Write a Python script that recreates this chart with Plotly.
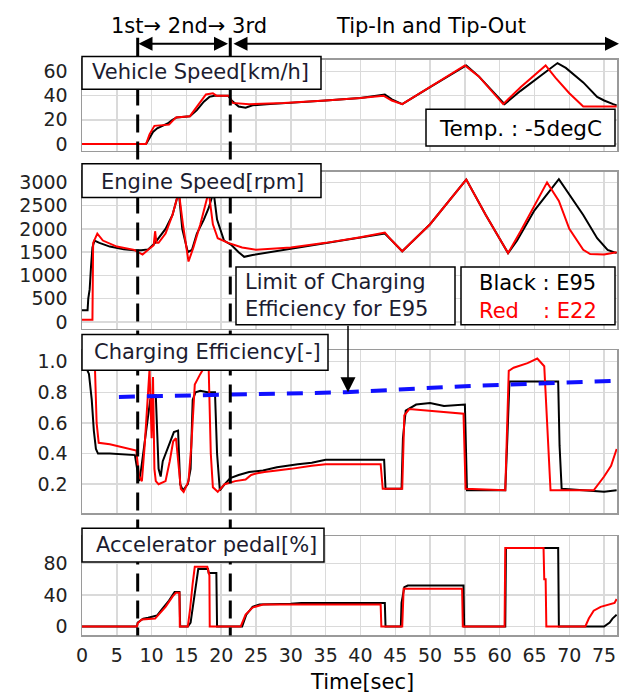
import plotly.graph_objects as go

# ---------------- data ----------------
# Vehicle speed [km/h]
t_vs_black = [0, 9.2, 9.6, 10.2, 10.8, 11.5, 12.3, 13.0, 13.6, 15.5, 16.5, 17.5, 18.3, 19.0, 21.0, 21.5, 22.5, 23.5, 24.5, 27, 30, 35, 40, 43.5, 44.5, 46, 50, 55.2, 57, 60.7, 63, 66, 68.3, 69.5, 72, 74, 75, 76.3, 76.8]
vs_black = [0, 0, 4, 10, 13, 15, 17, 20, 22, 23, 28, 35, 39, 40, 40, 36, 31, 30, 32, 33, 34, 36, 38, 41, 37, 33, 47, 65, 56, 33, 44, 57, 67, 63, 51, 39, 36, 33, 32]
t_vs_red = [0, 9.2, 9.7, 10.4, 12.5, 13.5, 15.5, 17.2, 17.8, 18.8, 19.3, 21.1, 21.6, 24, 29, 35, 40, 43.3, 44.5, 46, 50, 55, 57, 60.5, 63, 66.6, 68, 70, 72, 76.8]
vs_red = [0, 0, 8, 15, 16, 22, 23, 37, 41, 42, 40, 40, 34, 33, 34, 36, 38, 40, 36, 33, 47, 65, 56, 33, 47, 65, 55, 42, 31, 31]

# Engine speed [rpm]
t_es_black = [0, 0.8, 0.9, 1.1, 1.3, 1.5, 1.8, 2.5, 4, 6, 7.5, 8.5, 9.5, 10.5, 11, 12, 13, 13.9, 14.4, 15.2, 15.8, 16.5, 17.5, 18.2, 18.9, 19.4, 20.4, 21.5, 22.5, 23.3, 24.5, 27, 30, 35, 40, 43.5, 44.5, 46, 50, 55.2, 58, 61.2, 62.5, 65, 68.5, 70, 72, 74, 75.5, 76.8]
es_black = [250, 250, 500, 700, 1200, 1600, 1750, 1700, 1620, 1560, 1540, 1540, 1560, 1700, 1800, 2000, 2300, 2800, 2000, 1500, 1550, 1900, 2200, 2450, 2800, 2200, 1750, 1650, 1500, 1400, 1440, 1500, 1560, 1680, 1800, 1900, 1750, 1520, 2100, 3060, 2300, 1480, 1750, 2400, 3070, 2750, 2300, 1800, 1550, 1480]
t_es_red = [0, 1.5, 1.6, 2.2, 3, 5, 7.5, 8.3, 8.7, 9.5, 10.3, 10.5, 10.7, 11, 12, 13, 13.9, 14.5, 15.3, 16, 17, 18.2, 18.8, 19.5, 21, 23, 25, 30, 35, 40, 43.5, 44.5, 46, 50, 55.2, 58, 61.2, 63, 66.8, 68.5, 70, 72, 73, 75, 76.8]
es_red = [50, 50, 1700, 1900, 1750, 1620, 1550, 1480, 1450, 1550, 1650, 1950, 1700, 1700, 1900, 2300, 2800, 2100, 1300, 1600, 2100, 2800, 2100, 1800, 1700, 1600, 1550, 1600, 1700, 1820, 1920, 1750, 1520, 2100, 3060, 2300, 1480, 1950, 3000, 2600, 2000, 1550, 1460, 1450, 1500]

# Charging efficiency [-]
t_ce_black = [0, 0.5, 1.0, 1.4, 1.7, 2.0, 2.3, 4, 7.6, 7.9, 8.2, 8.5, 9.2, 9.8, 10.2, 10.6, 11.0, 11.3, 11.6, 12.5, 13.2, 13.8, 14.1, 14.5, 15.2, 15.6, 15.9, 16.3, 17, 18, 19.1, 19.4, 19.8, 20.5, 21.3, 22.5, 24, 26, 28, 31, 33, 35, 43.4, 43.6, 45.9, 46.1, 46.5, 48, 50, 52, 55.0, 55.3, 60.8, 61.1, 61.4, 64, 68.4, 68.6, 68.9, 72, 75, 76.8]
ce_black = [1.0, 0.97, 0.92, 0.75, 0.55, 0.43, 0.40, 0.40, 0.39, 0.30, 0.22, 0.30, 0.55, 0.75, 0.78, 0.78, 0.30, 0.25, 0.35, 0.45, 0.54, 0.55, 0.20, 0.16, 0.20, 0.30, 0.75, 0.80, 0.81, 0.80, 0.80, 0.40, 0.16, 0.20, 0.24, 0.26, 0.28, 0.29, 0.31, 0.33, 0.34, 0.36, 0.36, 0.17, 0.17, 0.50, 0.68, 0.72, 0.73, 0.71, 0.72, 0.16, 0.16, 0.50, 0.87, 0.87, 0.87, 0.45, 0.17, 0.16, 0.15, 0.16]
t_ce_red = [0, 1.8, 2.1, 2.4, 4, 6, 7.8, 8.2, 8.6, 9.0, 9.4, 9.7, 10.0, 10.2, 10.4, 10.6, 11.0, 12.0, 12.6, 13.1, 13.5, 13.9, 14.2, 14.6, 15.3, 15.7, 16.2, 17.0, 17.4, 18.2, 18.5, 18.8, 19.5, 20.5, 22, 23.5, 24.3, 25, 26.2, 28, 30, 33, 35, 42.9, 43.2, 46.0, 46.3, 47, 50, 54.8, 55.1, 60.8, 61.3, 62, 64, 65.4, 66.4, 66.9, 67.3, 70, 73.5, 75, 76, 76.8]
ce_red = [1.05, 1.05, 0.60, 0.47, 0.46, 0.44, 0.42, 0.25, 0.22, 0.45, 0.70, 0.95, 0.50, 0.90, 0.30, 0.22, 0.20, 0.22, 0.35, 0.48, 0.50, 0.30, 0.17, 0.15, 0.22, 0.45, 0.85, 0.92, 0.95, 0.95, 0.40, 0.18, 0.15, 0.20, 0.22, 0.23, 0.26, 0.27, 0.28, 0.29, 0.30, 0.32, 0.33, 0.33, 0.17, 0.17, 0.65, 0.69, 0.68, 0.66, 0.17, 0.16, 0.94, 0.96, 0.99, 1.02, 0.97, 0.50, 0.16, 0.16, 0.16, 0.25, 0.32, 0.43]
t_limit = [5.3, 18.6, 37.8, 55, 76.8]
ce_limit = [0.77, 0.78, 0.80, 0.84, 0.875]

# Accelerator pedal [%]
t_ap_black = [0, 7.9, 8.0, 8.8, 9.5, 10.8, 11.5, 12.5, 13.3, 14.0, 14.1, 15.2, 15.6, 16.0, 16.4, 16.7, 18.1, 18.2, 19.3, 19.4, 23.0, 23.6, 24.5, 25.5, 30, 31.5, 43.5, 43.6, 45.8, 45.9, 46.3, 46.8, 54.8, 54.9, 60.8, 60.9, 68.4, 68.5, 75.0, 75.8, 76.2, 76.8]
ap_black = [0, 0, 5, 10, 11, 14, 22, 33, 44, 44, 0, 0, 5, 30, 60, 73, 73, 68, 68, 0, 0, 15, 25, 28, 29, 30, 30, 0, 0, 30, 50, 52, 52, 0, 0, 100, 100, 0, 0, 5, 10, 15]
t_ap_red = [0, 7.9, 8.0, 8.6, 10.5, 11, 12, 13.0, 13.5, 14.0, 14.05, 15.2, 15.5, 15.9, 16.2, 18.0, 18.3, 18.35, 22.8, 23.5, 24.5, 26, 42.9, 43.0, 46.0, 46.2, 54.6, 54.7, 60.7, 60.8, 66.3, 66.4, 66.6, 66.7, 72.3, 72.8, 73.5, 74.5, 75.5, 76.5, 76.8]
ap_red = [0, 0, 4, 9, 10, 15, 25, 38, 43, 43, 0, 0, 20, 55, 76, 76, 65, 0, 0, 15, 24, 28, 28, 0, 0, 48, 48, 0, 0, 100, 100, 60, 60, 0, 0, 10, 20, 25, 28, 30, 35]

x_ticks = list(range(0, 80, 5))
shift_times = [8.0, 21.3]

# ---------------- layout helpers ----------------
W, H = 622, 695
ML, MR = 82, 5
PW = W - ML - MR
FONT = "DejaVu Sans"
TXT = "#1c1c30"


def fx(px):
    return (px - ML) / PW


def fy(py):
    return 1 - py / H


X_RANGE = [0, 76.85]
panels = [  # (top px, bottom px, y range, tick values, tick format)
    (59, 151, [-5.75, 69.9], [0, 20, 40, 60], None),
    (172, 330, [-143, 3228], [0, 500, 1000, 1500, 2000, 2500, 3000], None),
    (352, 516, [0.01, 1.073], [0.2, 0.4, 0.6, 0.8, 1.0], ".1f"),
    (539, 639, [-11.4, 115], [0, 40, 80], None),
]

fig = go.Figure()
BLACK_W, RED_W = 2, 2
series = [
    (t_vs_black, vs_black, t_vs_red, vs_red),
    (t_es_black, es_black, t_es_red, es_red),
    (t_ce_black, ce_black, t_ce_red, ce_red),
    (t_ap_black, ap_black, t_ap_red, ap_red),
]
for i, (tb, yb, tr, yr) in enumerate(series):
    xa = "x" if i == 0 else f"x{i+1}"
    ya = "y" if i == 0 else f"y{i+1}"
    fig.add_trace(go.Scatter(x=tb, y=yb, mode="lines", line=dict(color="black", width=BLACK_W),
                             xaxis=xa, yaxis=ya, hoverinfo="skip"))
    fig.add_trace(go.Scatter(x=tr, y=yr, mode="lines", line=dict(color="#ff0000", width=RED_W),
                             xaxis=xa, yaxis=ya, hoverinfo="skip"))
    if i == 2:
        fig.add_trace(go.Scatter(x=t_limit, y=ce_limit, mode="lines",
                                 line=dict(color="#1010ff", width=4, dash="16px,12px"),
                                 xaxis=xa, yaxis=ya, hoverinfo="skip"))

layout = dict(
    width=W, height=H, autosize=False,
    margin=dict(l=ML, r=MR, t=0, b=0, pad=0),
    paper_bgcolor="white", plot_bgcolor="white",
    showlegend=False,
    font=dict(family=FONT, size=19, color="#222"),
)
GRID = "#dadada"
FRAME = "#9a9a9a"
for i, (top, bot, yr, tv, tf) in enumerate(panels):
    sfx = "" if i == 0 else str(i + 1)
    layout["xaxis" + sfx] = dict(
        domain=[0, 1], range=X_RANGE, anchor="y" + sfx, tickvals=x_ticks,
        showticklabels=(i == 3), ticks="", ticklabelstandoff=2,
        showgrid=True, gridcolor=GRID, gridwidth=1.5,
        showline=True, linecolor=FRAME, linewidth=1.5, mirror=True, zeroline=False,
        tickfont=dict(size=19, color="#222"), fixedrange=True,
    )
    yd = dict(
        domain=[fy(bot), fy(top)], range=yr, anchor="x" + sfx, tickvals=tv,
        ticks="", ticklabelstandoff=9,
        showgrid=True, gridcolor=GRID, gridwidth=1.5,
        showline=True, linecolor=FRAME, linewidth=1.5, mirror=True, zeroline=False,
        tickfont=dict(size=19, color="#222"), fixedrange=True,
    )
    if tf:
        yd["tickformat"] = tf
    layout["yaxis" + sfx] = yd
fig.update_layout(**layout)

# ---------------- shapes ----------------
shapes = []
for ts in shift_times:
    shapes.append(dict(type="line", xref="x", yref="paper", x0=ts, x1=ts, y0=fy(37), y1=fy(60),
                       line=dict(color="black", width=3), layer="above"))
    shapes.append(dict(type="line", xref="x", yref="paper", x0=ts, x1=ts, y0=fy(60), y1=fy(639),
                       line=dict(color="black", width=3, dash="18px,9px"), layer="above"))

boxes = [
    (82, 321, 56, 89),     # Vehicle Speed
    (426, 615, 109, 146),  # Temp
    (82, 321, 164, 198),   # Engine Speed
    (236, 455, 268, 326),  # Limit
    (461, 615, 268, 326),  # Black/Red
    (82, 328, 336, 372),   # Charging Efficiency
    (82, 324, 531, 565),   # Accelerator
]
for x0, x1, y0, y1 in boxes:
    shapes.append(dict(type="rect", xref="paper", yref="paper",
                       x0=fx(x0), x1=fx(x1), y0=fy(y1), y1=fy(y0),
                       fillcolor="white", line=dict(color="black", width=1.5), layer="above"))
fig.update_layout(shapes=shapes)

# ---------------- annotations ----------------
ann = []


def label(text, x, y, color=TXT, size=21, xanchor="left"):
    ann.append(dict(text=text, x=fx(x), y=fy(y), xref="paper", yref="paper",
                    xanchor=xanchor, yanchor="middle", showarrow=False,
                    font=dict(family=FONT, size=size, color=color), align="left"))


label("Vehicle Speed[km/h]", 90, 72)
label("Temp. : -5degC", 437, 128, color="black", size=21.5)
label("Engine Speed[rpm]", 99, 182)
label("Limit of Charging<br>Efficiency for E95", 243, 297)
label("Black : E95", 477, 284, color="black")
label("Red", 477, 312, color="#ff0000")
label(": E22", 541, 312, color="#ff0000")
label("Charging Efficiency[-]", 92, 354)
label("Accelerator pedal[%]", 94, 548)
label("1st→ 2nd→ 3rd", 109, 25, color="black")
label("Tip-In and Tip-Out", 334, 25, color="black")
label("Time[sec]", 362, 686, color="black", xanchor="center")


def arrow(x_head, y_head, ax, ay, both, width, size):
    d = dict(text="", x=fx(x_head), y=fy(y_head), xref="paper", yref="paper",
             ax=ax, ay=ay, axref="pixel", ayref="pixel", showarrow=True,
             arrowhead=2, arrowsize=size, arrowwidth=width, arrowcolor="black",
             standoff=0, startstandoff=0)
    if both:
        d["arrowside"] = "end+start"
        d["startarrowhead"] = 2
        d["startarrowsize"] = size
    ann.append(d)


arrow(228, 43, 137 - 228, 0, True, 2, 1.4)
arrow(619, 43, 232 - 619, 0, True, 2, 1.4)
arrow(348, 394, 0, 326 - 394, False, 1.5, 2.0)
fig.update_layout(annotations=ann)

fig.write_html(
    "out.html",
    config={"displayModeBar": False, "staticPlot": True},
    post_script="document.body.style.margin='0';document.body.style.padding='0';"
                "document.body.style.overflow='hidden';"
                "document.documentElement.style.overflow='hidden';",
)
